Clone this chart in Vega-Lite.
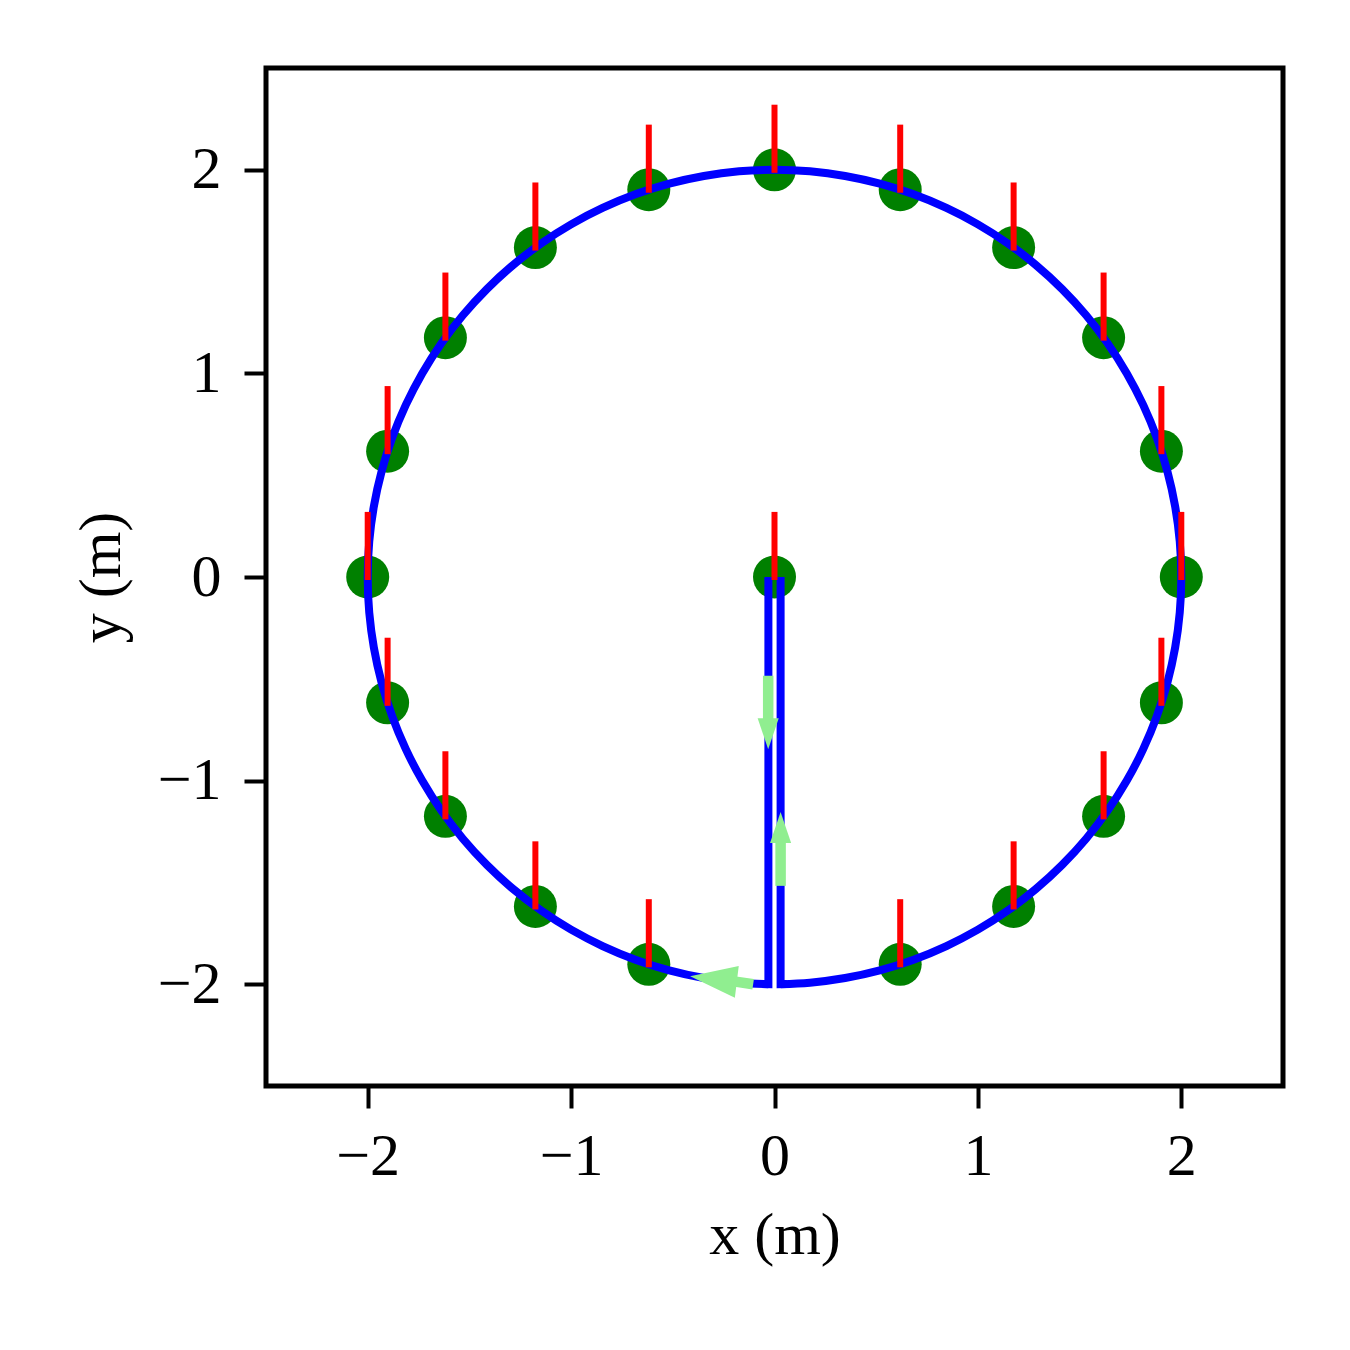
{
  "$schema": "https://vega.github.io/schema/vega-lite/v6.json",
  "width": 1017,
  "height": 1018,
  "autosize": {"type": "none"},
  "padding": {"left": 266, "top": 68, "right": 67, "bottom": 264},
  "background": "white",
  "config": {
    "view": {"stroke": "black", "strokeWidth": 5},
    "axis": {
      "grid": false,
      "domain": false,
      "ticks": true,
      "tickSize": 22,
      "tickWidth": 4,
      "tickColor": "black",
      "labelFont": "Liberation Serif",
      "labelFontSize": 60,
      "labelColor": "black",
      "titleFont": "Liberation Serif",
      "titleFontSize": 60,
      "titleFontWeight": "normal",
      "titleColor": "black"
    }
  },
  "datasets": {
    "legs": [
      {"leg": "down", "i": 0, "x": -0.03, "y": 0},
      {"leg": "down", "i": 1, "x": -0.03, "y": -2.0},
      {"leg": "down", "i": 2, "x": -0.06, "y": -1.9995},
      {"leg": "up", "i": 0, "x": 0.06, "y": -1.9995},
      {"leg": "up", "i": 1, "x": 0.03, "y": -2.0},
      {"leg": "up", "i": 2, "x": 0.03, "y": 0}
    ],
    "arc": [
      {"i": 1, "x": -0.03, "y": -2.0},
      {"i": 2, "x": -0.1743, "y": -1.9924},
      {"i": 3, "x": -0.3473, "y": -1.9696},
      {"i": 4, "x": -0.5176, "y": -1.9319},
      {"i": 5, "x": -0.684, "y": -1.8794},
      {"i": 6, "x": -0.8452, "y": -1.8126},
      {"i": 7, "x": -1.0, "y": -1.7321},
      {"i": 8, "x": -1.1472, "y": -1.6383},
      {"i": 9, "x": -1.2856, "y": -1.5321},
      {"i": 10, "x": -1.4142, "y": -1.4142},
      {"i": 11, "x": -1.5321, "y": -1.2856},
      {"i": 12, "x": -1.6383, "y": -1.1472},
      {"i": 13, "x": -1.7321, "y": -1.0},
      {"i": 14, "x": -1.8126, "y": -0.8452},
      {"i": 15, "x": -1.8794, "y": -0.684},
      {"i": 16, "x": -1.9319, "y": -0.5176},
      {"i": 17, "x": -1.9696, "y": -0.3473},
      {"i": 18, "x": -1.9924, "y": -0.1743},
      {"i": 19, "x": -2.0, "y": 0},
      {"i": 20, "x": -1.9924, "y": 0.1743},
      {"i": 21, "x": -1.9696, "y": 0.3473},
      {"i": 22, "x": -1.9319, "y": 0.5176},
      {"i": 23, "x": -1.8794, "y": 0.684},
      {"i": 24, "x": -1.8126, "y": 0.8452},
      {"i": 25, "x": -1.7321, "y": 1.0},
      {"i": 26, "x": -1.6383, "y": 1.1472},
      {"i": 27, "x": -1.5321, "y": 1.2856},
      {"i": 28, "x": -1.4142, "y": 1.4142},
      {"i": 29, "x": -1.2856, "y": 1.5321},
      {"i": 30, "x": -1.1472, "y": 1.6383},
      {"i": 31, "x": -1.0, "y": 1.7321},
      {"i": 32, "x": -0.8452, "y": 1.8126},
      {"i": 33, "x": -0.684, "y": 1.8794},
      {"i": 34, "x": -0.5176, "y": 1.9319},
      {"i": 35, "x": -0.3473, "y": 1.9696},
      {"i": 36, "x": -0.1743, "y": 1.9924},
      {"i": 37, "x": 0, "y": 2.0},
      {"i": 38, "x": 0.1743, "y": 1.9924},
      {"i": 39, "x": 0.3473, "y": 1.9696},
      {"i": 40, "x": 0.5176, "y": 1.9319},
      {"i": 41, "x": 0.684, "y": 1.8794},
      {"i": 42, "x": 0.8452, "y": 1.8126},
      {"i": 43, "x": 1.0, "y": 1.7321},
      {"i": 44, "x": 1.1472, "y": 1.6383},
      {"i": 45, "x": 1.2856, "y": 1.5321},
      {"i": 46, "x": 1.4142, "y": 1.4142},
      {"i": 47, "x": 1.5321, "y": 1.2856},
      {"i": 48, "x": 1.6383, "y": 1.1472},
      {"i": 49, "x": 1.7321, "y": 1.0},
      {"i": 50, "x": 1.8126, "y": 0.8452},
      {"i": 51, "x": 1.8794, "y": 0.684},
      {"i": 52, "x": 1.9319, "y": 0.5176},
      {"i": 53, "x": 1.9696, "y": 0.3473},
      {"i": 54, "x": 1.9924, "y": 0.1743},
      {"i": 55, "x": 2.0, "y": 0},
      {"i": 56, "x": 1.9924, "y": -0.1743},
      {"i": 57, "x": 1.9696, "y": -0.3473},
      {"i": 58, "x": 1.9319, "y": -0.5176},
      {"i": 59, "x": 1.8794, "y": -0.684},
      {"i": 60, "x": 1.8126, "y": -0.8452},
      {"i": 61, "x": 1.7321, "y": -1.0},
      {"i": 62, "x": 1.6383, "y": -1.1472},
      {"i": 63, "x": 1.5321, "y": -1.2856},
      {"i": 64, "x": 1.4142, "y": -1.4142},
      {"i": 65, "x": 1.2856, "y": -1.5321},
      {"i": 66, "x": 1.1472, "y": -1.6383},
      {"i": 67, "x": 1.0, "y": -1.7321},
      {"i": 68, "x": 0.8452, "y": -1.8126},
      {"i": 69, "x": 0.684, "y": -1.8794},
      {"i": 70, "x": 0.5176, "y": -1.9319},
      {"i": 71, "x": 0.3473, "y": -1.9696},
      {"i": 72, "x": 0.1743, "y": -1.9924},
      {"i": 73, "x": 0.03, "y": -2.0}
    ],
    "poses": [
      {"x": 0, "y": 0, "tip": 0.305},
      {"x": 2.0, "y": 0, "tip": 0.305},
      {"x": 1.9021, "y": 0.618, "tip": 0.923},
      {"x": 1.618, "y": 1.1756, "tip": 1.4806},
      {"x": 1.1756, "y": 1.618, "tip": 1.923},
      {"x": 0.618, "y": 1.9021, "tip": 2.2071},
      {"x": 0, "y": 2.0, "tip": 2.305},
      {"x": -0.618, "y": 1.9021, "tip": 2.2071},
      {"x": -1.1756, "y": 1.618, "tip": 1.923},
      {"x": -1.618, "y": 1.1756, "tip": 1.4806},
      {"x": -1.9021, "y": 0.618, "tip": 0.923},
      {"x": -2.0, "y": 0, "tip": 0.305},
      {"x": -1.9021, "y": -0.618, "tip": -0.313},
      {"x": -1.618, "y": -1.1756, "tip": -0.8706},
      {"x": -1.1756, "y": -1.618, "tip": -1.313},
      {"x": -0.618, "y": -1.9021, "tip": -1.5971},
      {"x": 0.618, "y": -1.9021, "tip": -1.5971},
      {"x": 1.1756, "y": -1.618, "tip": -1.313},
      {"x": 1.618, "y": -1.1756, "tip": -0.8706},
      {"x": 1.9021, "y": -0.618, "tip": -0.313}
    ],
    "shafts": [
      {"x": -0.031, "y": -0.485, "x2": -0.031, "y2": -0.72},
      {"x": 0.03, "y": -1.517, "x2": 0.03, "y2": -1.28},
      {"x": -0.105, "y": -2.0, "x2": -0.2, "y2": -1.986}
    ],
    "heads": [
      {"x": -0.031, "y": -0.77, "dir": "down"},
      {"x": 0.03, "y": -1.23, "dir": "up"},
      {"x": -0.3, "y": -1.975, "dir": "left"}
    ]
  },
  "layer": [
    {
      "data": {"name": "poses"},
      "mark": {"type": "point", "shape": "circle", "filled": true, "size": 1849, "color": "#008000", "opacity": 1, "strokeWidth": 0},
      "encoding": {
        "x": {"field": "x", "type": "quantitative", "scale": {"domain": [-2.5, 2.5], "nice": false, "zero": false}, "axis": {"title": "x (m)", "values": [-2, -1, 0, 1, 2], "format": "d", "labelPadding": 19, "titlePadding": 20}},
        "y": {"field": "y", "type": "quantitative", "scale": {"domain": [-2.5, 2.5], "nice": false, "zero": false}, "axis": {"title": "y (m)", "values": [-2, -1, 0, 1, 2], "format": "d", "labelPadding": 23, "titlePadding": 25}}
      }
    },
    {
      "data": {"name": "arc"},
      "mark": {"type": "line", "stroke": "#0000FF", "strokeWidth": 8, "interpolate": "catmull-rom"},
      "encoding": {
        "x": {"field": "x", "type": "quantitative"},
        "y": {"field": "y", "type": "quantitative"},
        "order": {"field": "i", "type": "quantitative"}
      }
    },
    {
      "data": {"name": "legs"},
      "mark": {"type": "line", "stroke": "#0000FF", "strokeWidth": 8, "strokeJoin": "miter"},
      "encoding": {
        "x": {"field": "x", "type": "quantitative"},
        "y": {"field": "y", "type": "quantitative"},
        "detail": {"field": "leg"},
        "order": {"field": "i", "type": "quantitative"}
      }
    },
    {
      "data": {"name": "poses"},
      "mark": {"type": "rule", "color": "#FF0000", "strokeWidth": 6, "strokeCap": "square"},
      "encoding": {
        "x": {"field": "x", "type": "quantitative"},
        "y": {"field": "y", "type": "quantitative"},
        "y2": {"field": "tip"}
      }
    },
    {
      "data": {"name": "shafts"},
      "mark": {"type": "rule", "color": "#90EE90", "strokeWidth": 10.5, "strokeCap": "butt"},
      "encoding": {
        "x": {"field": "x", "type": "quantitative"},
        "y": {"field": "y", "type": "quantitative"},
        "x2": {"field": "x2"},
        "y2": {"field": "y2"}
      }
    },
    {
      "data": {"name": "heads"},
      "transform": [{"filter": "datum.dir === 'down'"}],
      "mark": {"type": "point", "filled": true, "opacity": 1, "color": "#90EE90", "strokeWidth": 0, "size": 961, "shape": "M-0.68,-1L0.68,-1L0,1Z"},
      "encoding": {
        "x": {"field": "x", "type": "quantitative"},
        "y": {"field": "y", "type": "quantitative"}
      }
    },
    {
      "data": {"name": "heads"},
      "transform": [{"filter": "datum.dir === 'up'"}],
      "mark": {"type": "point", "filled": true, "opacity": 1, "color": "#90EE90", "strokeWidth": 0, "size": 961, "shape": "M-0.68,1L0.68,1L0,-1Z"},
      "encoding": {
        "x": {"field": "x", "type": "quantitative"},
        "y": {"field": "y", "type": "quantitative"}
      }
    },
    {
      "data": {"name": "heads"},
      "transform": [{"filter": "datum.dir === 'left'"}],
      "mark": {"type": "point", "filled": true, "opacity": 1, "color": "#90EE90", "strokeWidth": 0, "size": 2209, "angle": 7, "shape": "M1,-0.68L1,0.68L-1,0Z"},
      "encoding": {
        "x": {"field": "x", "type": "quantitative"},
        "y": {"field": "y", "type": "quantitative"}
      }
    }
  ]
}
